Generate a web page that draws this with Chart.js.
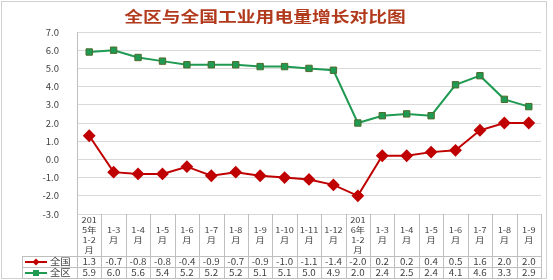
<!DOCTYPE html>
<html>
<head>
<meta charset="utf-8">
<script src="https://cdn.jsdelivr.net/npm/chart.js@4/dist/chart.umd.min.js"></script>
<style>
  html, body { margin: 0; padding: 0; background: #fff; }
  #wrap { width: 553px; height: 280px; }
</style>
</head>
<body>
<div id="wrap"><canvas id="c" width="553" height="280"></canvas></div>
<script>
// ── Data ─────────────────────────────────────────────
const TITLE = '全区与全国工业用电量增长对比图';

// category labels, already wrapped as in the table header
const categories = [
    ['201', '5年', '1-2', '月'], ['1-3', '月'], ['1-4', '月'], ['1-5', '月'],
    ['1-6', '月'], ['1-7', '月'], ['1-8', '月'], ['1-9', '月'],
    ['1-10', '月'], ['1-11', '月'], ['1-12', '月'],
    ['201', '6年', '1-2', '月'], ['1-3', '月'], ['1-4', '月'], ['1-5', '月'],
    ['1-6', '月'], ['1-7', '月'], ['1-8', '月'], ['1-9', '月'],
];

const nationalName = '全国';
const nationalValues = [1.3, -0.7, -0.8, -0.8, -0.4, -0.9, -0.7, -0.9, -1.0, -1.1, -1.4, -2.0, 0.2, 0.2, 0.4, 0.5, 1.6, 2.0, 2.0];

const regionName = '全区';
const regionValues = [5.9, 6.0, 5.6, 5.4, 5.2, 5.2, 5.2, 5.1, 5.1, 5.0, 4.9, 2.0, 2.4, 2.5, 2.4, 4.1, 4.6, 3.3, 2.9];

const Y_MIN = -3, Y_MAX = 7, Y_STEP = 1;

// ── Style ────────────────────────────────────────────
const RED = '#c00000';
const GREEN = '#1f9a52';
const GREEN_EDGE = '#4e6b2c';
const GRID = '#d9d9d9';
const TEXT = '#404040';
const FONT = '"Noto Sans CJK SC", "Noto Sans", sans-serif';

// stretched text (the source picture is widened horizontally)
function wideText(ctx, text, x, y, sx) {
    ctx.save();
    ctx.translate(x, y);
    ctx.scale(sx, 1);
    ctx.fillText(text, 0, 0);
    ctx.restore();
}

// ── Title + data table plugin ────────────────────────
const tablePlugin = {
    id: 'dataTable',
    afterDraw(chart) {
        const ctx = chart.ctx;
        const xs = chart.scales.x;
        const area = chart.chartArea;
        const n = categories.length;
        const colW = (area.right - area.left) / n;
        const top = area.bottom;
        const headBottom = 256;
        const row1 = 267;
        const row2 = 278;
        const legLeft = 22;

        ctx.save();

        // outer frame
        ctx.strokeStyle = '#d0d0d0';
        ctx.lineWidth = 1;
        ctx.strokeRect(1.5, 1.5, 545, 277);

        // title
        ctx.fillStyle = '#b23a1c';
        ctx.font = 'bold 15px ' + FONT;
        ctx.textAlign = 'center';
        ctx.textBaseline = 'middle';
        wideText(ctx, TITLE, 265, 16, 1.25);

        // table lines
        ctx.strokeStyle = '#bfbfbf';
        ctx.lineWidth = 1;
        ctx.beginPath();
        for (let i = 0; i <= n; i++) {
            const x = Math.round(area.left + i * colW) + 0.5;
            ctx.moveTo(x, top);
            ctx.lineTo(x, row2);
        }
        ctx.moveTo(legLeft + 0.5, headBottom);
        ctx.lineTo(legLeft + 0.5, row2);
        [headBottom, row1, row2].forEach(y => {
            ctx.moveTo(legLeft, y + 0.5);
            ctx.lineTo(area.right, y + 0.5);
        });
        ctx.stroke();

        // header labels
        ctx.fillStyle = TEXT;
        ctx.font = '8px ' + FONT;
        ctx.textAlign = 'center';
        ctx.textBaseline = 'middle';
        const lh = 9.8;
        const midHead = (top + headBottom) / 2;
        categories.forEach((lines, i) => {
            const cx = xs.getPixelForValue(i);
            const y0 = midHead - (lines.length - 1) * lh / 2;
            lines.forEach((t, k) => wideText(ctx, t, cx, y0 + k * lh, 1.15));
        });

        // values
        ctx.font = '8.5px ' + FONT;
        nationalValues.forEach((v, i) => {
            wideText(ctx, v.toFixed(1), xs.getPixelForValue(i), (headBottom + row1) / 2 + 0.5, 1.15);
        });
        regionValues.forEach((v, i) => {
            wideText(ctx, v.toFixed(1), xs.getPixelForValue(i), (row1 + row2) / 2 + 0.5, 1.15);
        });

        // legend keys
        const keys = [
            { name: nationalName, color: RED, y: (headBottom + row1) / 2, shape: 'diamond' },
            { name: regionName, color: GREEN, y: (row1 + row2) / 2, shape: 'square' },
        ];
        keys.forEach(k => {
            ctx.strokeStyle = k.color;
            ctx.lineWidth = 2;
            ctx.beginPath();
            ctx.moveTo(25, k.y + 0.5);
            ctx.lineTo(47, k.y + 0.5);
            ctx.stroke();
            ctx.fillStyle = k.color;
            ctx.beginPath();
            if (k.shape === 'diamond') {
                ctx.moveTo(36, k.y - 3); ctx.lineTo(39.5, k.y + 0.5);
                ctx.lineTo(36, k.y + 4); ctx.lineTo(32.5, k.y + 0.5);
                ctx.closePath();
                ctx.fill();
            } else {
                ctx.rect(33, k.y - 2.5, 6, 6);
                ctx.fill();
            }
            ctx.fillStyle = TEXT;
            ctx.font = '9px ' + FONT;
            ctx.textAlign = 'left';
            wideText(ctx, k.name, 50, k.y + 0.5, 1.15);
        });

        ctx.restore();
    },
};

new Chart(document.getElementById('c'), {
    type: 'line',
    data: {
        labels: categories.map(c => c.join('')),
        datasets: [
            {
                label: nationalName,
                data: nationalValues,
                borderColor: RED,
                backgroundColor: RED,
                borderWidth: 2,
                pointStyle: 'rectRot',
                pointRadius: 5,
                pointBorderColor: RED,
                pointBackgroundColor: RED,
                tension: 0,
            },
            {
                label: regionName,
                data: regionValues,
                borderColor: GREEN,
                backgroundColor: GREEN,
                borderWidth: 2,
                pointStyle: 'rect',
                pointRadius: 4.5,
                pointBorderWidth: 1,
                pointBorderColor: GREEN_EDGE,
                pointBackgroundColor: GREEN,
                tension: 0,
            },
        ],
    },
    options: {
        responsive: false,
        animation: false,
        layout: { padding: { top: 32, right: 12, bottom: 66, left: 0 } },
        plugins: {
            legend: { display: false },
            title: { display: false },
            tooltip: { enabled: false },
        },
        scales: {
            x: {
                type: 'category',
                offset: true,
                display: false,
            },
            y: {
                min: Y_MIN,
                max: Y_MAX,
                afterFit: s => { s.width = 77; },
                ticks: {
                    stepSize: Y_STEP,
                    padding: 18,
                    color: TEXT,
                    font: { family: FONT, size: 9.5 },
                    callback: v => Number(v).toFixed(1),
                },
                grid: { color: GRID, drawTicks: false },
                border: { display: true, color: '#bfbfbf' },
            },
        },
    },
    plugins: [tablePlugin],
});
</script>
</body>
</html>
